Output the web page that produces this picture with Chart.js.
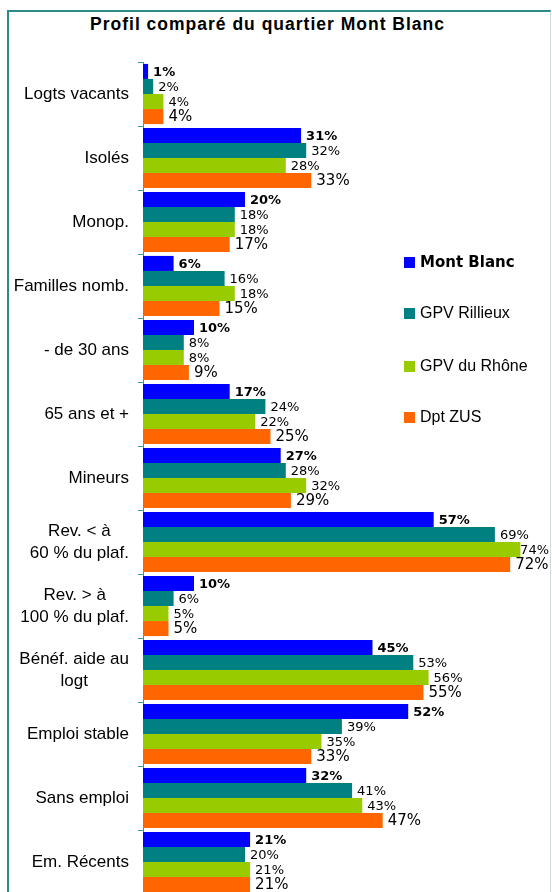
<!DOCTYPE html>
<html>
<head>
<meta charset="utf-8">
<script src="https://cdn.jsdelivr.net/npm/chart.js@4.4.1/dist/chart.umd.min.js"></script>
<style>
html, body { margin: 0; padding: 0; background: #fff; }
body { width: 552px; height: 892px; overflow: hidden; position: relative; }
#frame { position: absolute; left: 7px; top: 10px; width: 541px; height: 900px;
  border-left: 2px solid #2b8a8a; border-top: 2px solid #2b8a8a; border-right: 1px solid #c5dede; }
#title { position: absolute; left: 0; width: 535px; top: 14px; text-align: center;
  font: bold 17.5px "Liberation Sans", Arial, sans-serif; letter-spacing: 1px; color: #000; }
#chart { position: absolute; left: 0; top: 0; }
.leg { position: absolute; left: 404px; height: 20px; display: flex; align-items: center;
  font: 16px "Liberation Sans", Arial, sans-serif; color: #000; white-space: nowrap; }
.leg i { display: inline-block; width: 11px; height: 11px; margin-right: 5px; }
.leg.bold { font: bold 15px "DejaVu Sans", Verdana, sans-serif; }
</style>
</head>
<body>
<div id="frame"></div>
<div id="title">Profil comparé du quartier Mont Blanc</div>
<canvas id="chart" width="552" height="900"></canvas>
<div id="legend"></div>
<script>
const categories = ['Logts vacants', 'Isolés', 'Monop.', 'Familles nomb.', '- de 30 ans', '65 ans et +', 'Mineurs',
    ['Rev. < à', '60 % du plaf.'], ['Rev. > à', '100 % du plaf.'], ['Bénéf. aide au', 'logt'],
    'Emploi stable', 'Sans emploi', 'Em. Récents']
const montBlanc = [1, 31, 20, 6, 10, 17, 27, 57, 10, 45, 52, 32, 21]
const gpvRillieux = [2, 32, 18, 16, 8, 24, 28, 69, 6, 53, 39, 41, 20]
const gpvRhone = [4, 28, 18, 18, 8, 22, 32, 74, 5, 56, 35, 43, 21]
const dptZus = [4, 33, 17, 15, 9, 25, 29, 72, 5, 55, 33, 47, 21]
const seriesNames = ['Mont Blanc', 'GPV Rillieux', 'GPV du Rhône', 'Dpt ZUS']

const colors = ['#0000ff', '#008080', '#99cc00', '#ff6600']
const labelFonts = [
    'bold 13px "DejaVu Sans", Verdana, sans-serif',
    '13px "DejaVu Sans", Verdana, sans-serif',
    '13px "DejaVu Sans", Verdana, sans-serif',
    '15px "DejaVu Sans", Verdana, sans-serif'
]
const axisColor = '#3a9a9a'

// values at the end of each bar
const valueLabels = {
    id: 'valueLabels',
    afterDatasetsDraw(chart) {
        const ctx = chart.ctx
        const right = chart.chartArea.right - 2
        chart.data.datasets.forEach((ds, di) => {
            const meta = chart.getDatasetMeta(di)
            ctx.save()
            ctx.font = labelFonts[di]
            ctx.fillStyle = '#000'
            ctx.textBaseline = 'middle'
            meta.data.forEach((bar, i) => {
                const txt = ds.data[i] + '%'
                const w = ctx.measureText(txt).width
                const x = Math.min(bar.x + 5, right - w)
                ctx.fillText(txt, x, bar.y + 1)
            })
            ctx.restore()
        })
    }
}

// category labels: right edge fixed, wrapped lines centred on each other
const catLabels = {
    id: 'catLabels',
    afterDraw(chart) {
        const scale = chart.scales.y
        const ctx = chart.ctx
        const right = scale.right - 14
        ctx.save()
        ctx.font = '17px "Liberation Sans", Arial, sans-serif'
        ctx.fillStyle = '#000'
        ctx.textAlign = 'center'
        ctx.textBaseline = 'middle'
        categories.forEach((lab, i) => {
            const lines = [].concat(lab)
            const w = Math.max(...lines.map(l => ctx.measureText(l).width))
            const cy = scale.getPixelForTick(i)
            lines.forEach((l, j) => {
                ctx.fillText(l, right - w / 2, cy + (j - (lines.length - 1) / 2) * 22)
            })
        })
        ctx.restore()
    }
}

const legendTops = [252, 303, 356, 407]
const legend = document.getElementById('legend')
seriesNames.forEach((name, i) => {
    const d = document.createElement('div')
    d.className = 'leg' + (i === 0 ? ' bold' : '')
    d.style.top = legendTops[i] + 'px'
    d.innerHTML = `<i style="background:${colors[i]}"></i>${name}`
    legend.appendChild(d)
})

const chartData = {
    labels: categories,
    datasets: [montBlanc, gpvRillieux, gpvRhone, dptZus].map((values, i) => ({
        label: seriesNames[i],
        data: values,
        backgroundColor: colors[i],
        borderWidth: 0,
        barPercentage: 1,
        categoryPercentage: 0.94
    }))
}

new Chart(document.getElementById('chart'), {
    type: 'bar',
    data: chartData,
    options: {
        indexAxis: 'y',
        responsive: false,
        animation: false,
        layout: { padding: { top: 62, bottom: 6, right: 1, left: 0 } },
        plugins: {
            legend: { display: false },
            tooltip: { enabled: false }
        },
        scales: {
            x: { display: false, min: 0, max: 80 },
            y: {
                afterFit(scale) { scale.width = 143 },
                grid: { drawOnChartArea: false, drawTicks: true, tickLength: 5, offset: true, color: axisColor },
                border: { color: axisColor },
                ticks: { display: false }
            }
        }
    },
    plugins: [valueLabels, catLabels]
})
</script>
</body>
</html>
